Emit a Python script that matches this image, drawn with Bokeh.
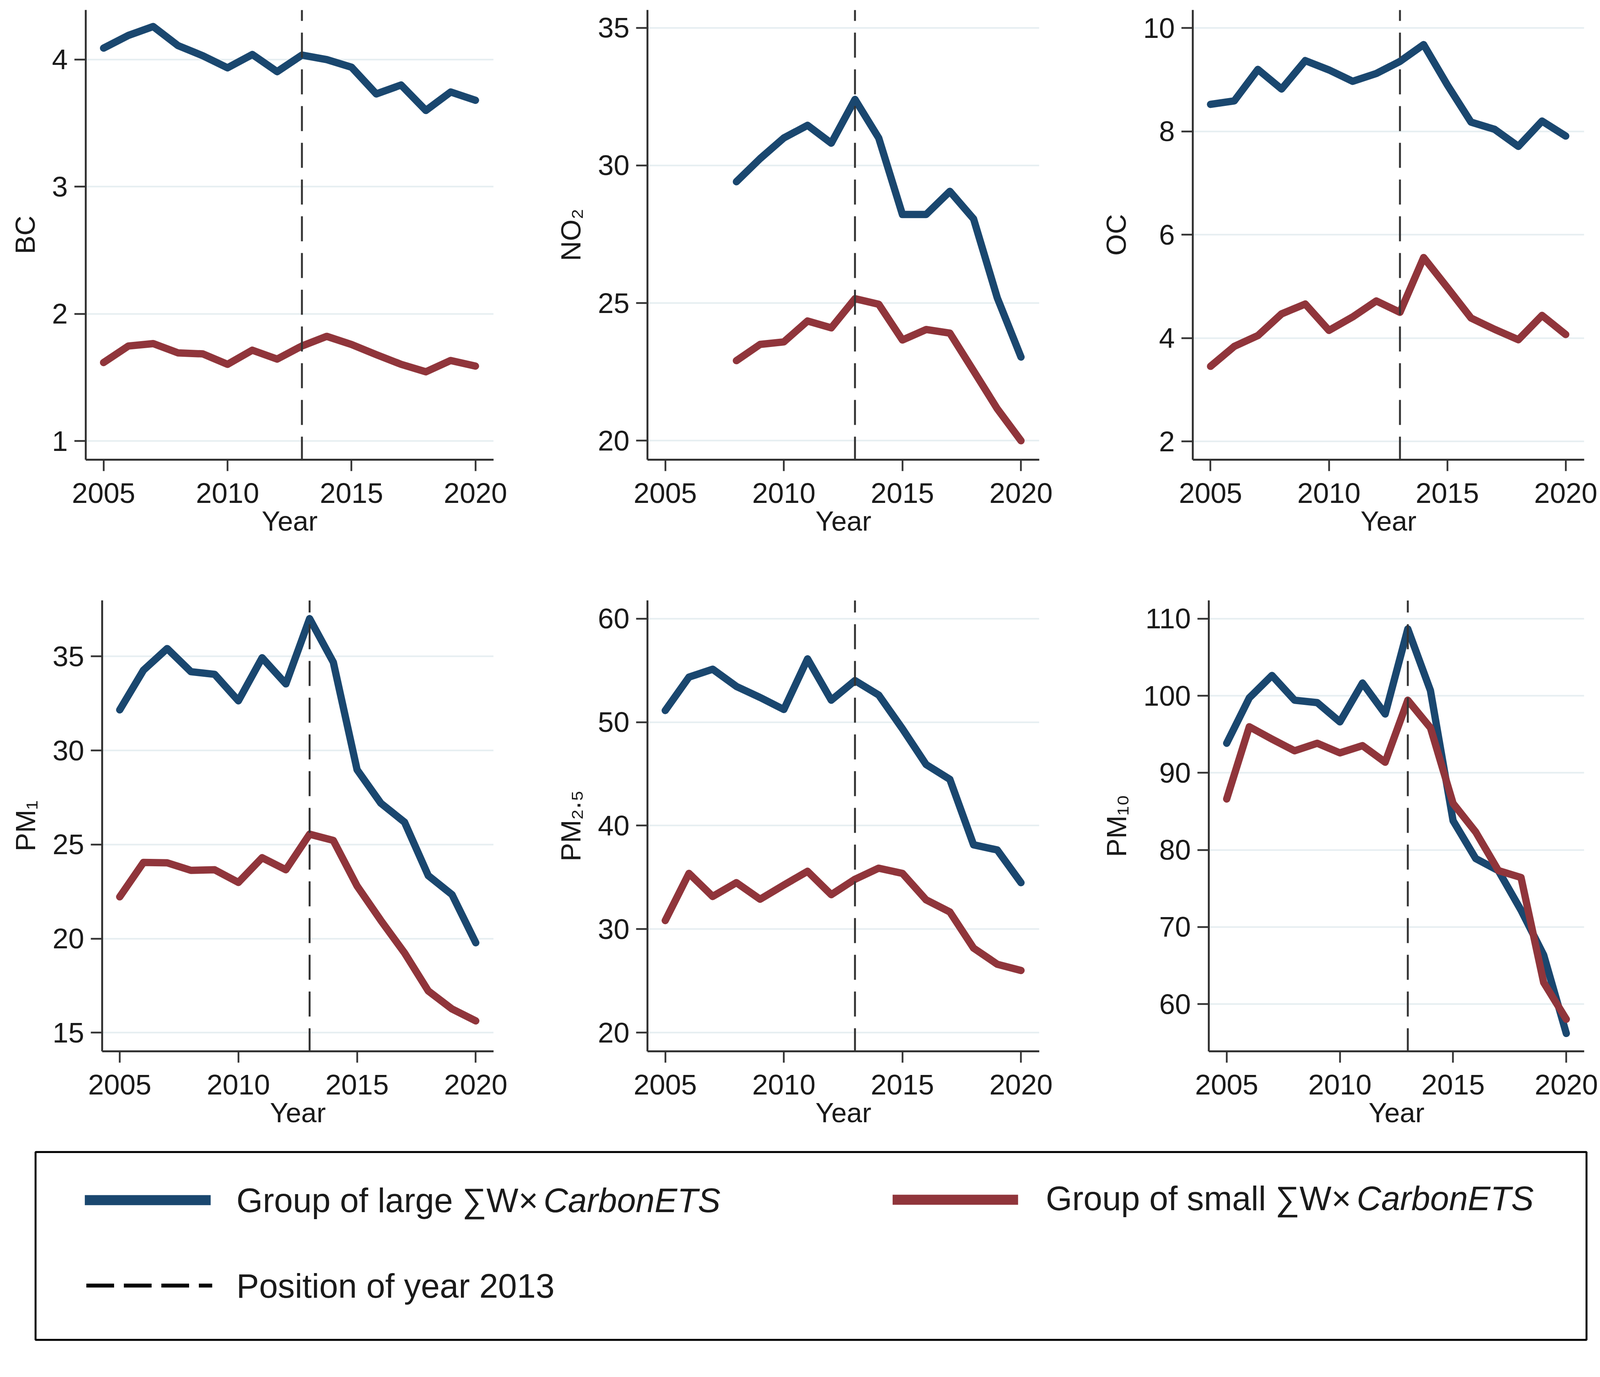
from bokeh.plotting import figure
from bokeh.models import Range1d, Span, FixedTicker
from bokeh.layouts import column, row
from bokeh.embed import file_html
from bokeh.resources import INLINE
from bokeh.core.properties import value

# ---------------- data ----------------
years = list(range(2005, 2021))
years_no2 = list(range(2008, 2021))
x_ticks = [2005, 2010, 2015, 2020]
policy_year = 2013

bc_large = [4.09, 4.19, 4.26, 4.11, 4.03, 3.935, 4.04, 3.905, 4.035, 4.00, 3.94, 3.73, 3.80, 3.60, 3.745, 3.68]
bc_small = [1.618, 1.748, 1.767, 1.694, 1.686, 1.604, 1.715, 1.645, 1.748, 1.824, 1.76, 1.68, 1.604, 1.545, 1.634, 1.59]

no2_large = [29.41, 30.25, 31.0, 31.46, 30.81, 32.4, 31.0, 28.22, 28.22, 29.06, 28.06, 25.19, 23.04]
no2_small = [22.91, 23.5, 23.59, 24.35, 24.1, 25.16, 24.96, 23.66, 24.04, 23.91, 22.54, 21.16, 20.0]

oc_large = [8.524, 8.59, 9.2, 8.82, 9.37, 9.19, 8.97, 9.12, 9.355, 9.68, 8.90, 8.18, 8.04, 7.71, 8.20, 7.91]
oc_small = [3.455, 3.84, 4.05, 4.47, 4.66, 4.15, 4.41, 4.72, 4.50, 5.56, 4.98, 4.39, 4.17, 3.97, 4.44, 4.07]

pm1_large = [32.16, 34.27, 35.42, 34.19, 34.05, 32.64, 34.93, 33.54, 37.01, 34.69, 28.98, 27.2, 26.19, 23.35, 22.34, 19.78]
pm1_small = [22.22, 24.05, 24.03, 23.63, 23.66, 22.99, 24.3, 23.66, 25.55, 25.22, 22.8, 20.97, 19.24, 17.22, 16.26, 15.63]

pm25_large = [51.12, 54.35, 55.11, 53.45, 52.38, 51.22, 56.11, 52.12, 54.01, 52.62, 49.36, 45.9, 44.47, 38.15, 37.65, 34.49]
pm25_small = [30.83, 35.39, 33.16, 34.49, 32.89, 34.26, 35.59, 33.33, 34.82, 35.89, 35.39, 32.83, 31.66, 28.17, 26.61, 26.01]

pm10_large = [93.84, 99.73, 102.63, 99.42, 99.11, 96.61, 101.65, 97.63, 108.66, 100.67, 83.79, 78.88, 77.32, 72.19, 66.38, 56.2]
pm10_small = [86.61, 95.98, 94.38, 92.86, 93.84, 92.59, 93.53, 91.38, 99.42, 95.85, 86.03, 82.32, 77.32, 76.43, 62.81, 58.04]

y_labels = ["BC", "NO\u2082", "OC", "PM\u2081", "PM\u2082.\u2085", "PM\u2081\u2080"]
y_ticks = [[1, 2, 3, 4], [20, 25, 30, 35], [2, 4, 6, 8, 10],
           [15, 20, 25, 30, 35], [20, 30, 40, 50, 60], [60, 70, 80, 90, 100, 110]]
x_ranges = [(2004.28, 2020.73), (2004.25, 2020.77), (2004.25, 2020.78),
            (2004.26, 2020.75), (2004.25, 2020.77), (2004.21, 2020.79)]
y_ranges = [(0.854, 4.39), (19.31, 35.65), (1.648, 10.35),
            (14.01, 37.98), (18.2, 61.76), (53.88, 112.37)]

legend_large = "Group of large \u2211W\u00d7"
legend_small = "Group of small \u2211W\u00d7"
legend_italic = "CarbonETS"
legend_dash = "Position of year 2013"

# ---------------- style / layout ----------------
BLUE = "#1a476f"
RED = "#90353b"
GRID = "#e6eef1"
AXIS = "#333333"
TEXT = "#1a1a1a"
FONT = "Liberation Sans"

Z = 1.015  # picture pixels per CSS pixel
DX = 7     # horizontal picture offset correction


def c(v):
    return int(round(v / Z))


def cx(v):
    return int(round((v + DX) / Z))


def f(v):
    return round(v / Z, 2)


col_edges = [8] + [cx(v) for v in (1330, 2771, 4156)]
row_edges = [c(v) for v in (8, 1440, 2980, 3496)]
# plot-frame edges in picture pixels: left, right, top, bottom
frames = [
    (223, 1283, 34, 1202), (1683, 2701, 34, 1202), (3100, 4117, 34, 1202),
    (266, 1283, 1567, 2738), (1683, 2701, 1567, 2738), (3142, 4117, 1567, 2738),
]

series = [
    (years, bc_large, bc_small),
    (years_no2, no2_large, no2_small),
    (years, oc_large, oc_small),
    (years, pm1_large, pm1_small),
    (years, pm25_large, pm25_small),
    (years, pm10_large, pm10_small),
]

DASH_PERIOD = 95


def make_panel(i):
    ci, ri = i % 3, i // 3
    fl, fr, ft, fb = frames[i]
    w = col_edges[ci + 1] - col_edges[ci]
    h = row_edges[ri + 1] - row_edges[ri]
    xs, large, small = series[i]
    p = figure(width=w, height=h, x_range=Range1d(*x_ranges[i]), y_range=Range1d(*y_ranges[i]),
               output_backend="svg", toolbar_location=None,
               min_border_left=cx(fl) - col_edges[ci], min_border_right=col_edges[ci + 1] - cx(fr),
               min_border_top=c(ft) - row_edges[ri], min_border_bottom=row_edges[ri + 1] - c(fb))
    p.outline_line_color = None
    p.background_fill_color = "white"
    p.border_fill_color = "white"
    p.xgrid.visible = False
    p.ygrid.ticker = FixedTicker(ticks=y_ticks[i])
    p.ygrid.grid_line_color = GRID
    p.ygrid.grid_line_width = f(4)

    p.xaxis.ticker = FixedTicker(ticks=x_ticks)
    p.yaxis.ticker = FixedTicker(ticks=y_ticks[i])
    p.xaxis.axis_label = "Year"
    p.yaxis.axis_label = y_labels[i]
    for ax in (p.xaxis, p.yaxis):
        ax.axis_line_color = AXIS
        ax.axis_line_width = f(5)
        ax.major_tick_line_color = AXIS
        ax.major_tick_line_width = f(4.5)
        ax.major_tick_out = c(29)
        ax.major_tick_in = 0
        ax.minor_tick_line_color = None
        ax.major_label_text_font = FONT
        ax.major_label_text_font_size = "%.1fpx" % (74 / Z)
        ax.major_label_text_color = TEXT
        ax.axis_label_text_font = FONT
        ax.axis_label_text_font_size = "%.1fpx" % (72 / Z)
        ax.axis_label_text_font_style = "normal"
        ax.axis_label_text_color = TEXT
    p.xaxis.major_label_standoff = c(31)
    p.xaxis.axis_label_standoff = c(4)
    p.yaxis.major_label_standoff = c(17)
    p.yaxis.axis_label_standoff = c(26)

    p.line(xs, large, line_color=BLUE, line_width=f(19), line_join="round", line_cap="round")
    p.line(xs, small, line_color=RED, line_width=f(19), line_join="round", line_cap="round")
    # dash pattern anchored at the bottom of the frame
    frame_h = fb - ft
    offset = (65 - frame_h % DASH_PERIOD) % DASH_PERIOD
    p.add_layout(Span(location=policy_year, dimension="height", line_color=AXIS,
                      line_width=f(5), line_dash="%d %d" % (c(65), c(30)),
                      line_dash_offset=c(offset)))
    return p


panels = [make_panel(i) for i in range(6)]

# ---------------- legend (coordinates in picture pixels) ----------------
lw = col_edges[3] - col_edges[0]
lh = row_edges[3] - row_edges[2]
leg = figure(width=lw, height=lh,
             x_range=Range1d(Z * col_edges[0] - DX, Z * col_edges[3] - DX),
             y_range=Range1d(Z * row_edges[3], Z * row_edges[2]),
             output_backend="svg", toolbar_location=None,
             min_border_left=0, min_border_right=0, min_border_top=0, min_border_bottom=0)
leg.axis.visible = False
leg.grid.visible = False
leg.outline_line_color = None
leg.background_fill_color = "white"
leg.border_fill_color = "white"

leg.quad(left=93, right=4123, top=3000, bottom=3488, fill_color="white",
         line_color="black", line_width=f(5))
leg.line([221, 548], [3125, 3125], line_color=BLUE, line_width=f(26))
leg.line([2320, 2646], [3124, 3124], line_color=RED, line_width=f(26))
leg.line([225, 552], [3347, 3347], line_color="black", line_width=f(10),
         line_dash="%d %d" % (c(72), c(25)))

txt = dict(text_font=value(FONT), text_font_size="%.1fpx" % (88 / Z), text_color=TEXT,
           text_baseline="middle", text_align="left")
leg.text(x=[615, 2718, 615], y=[3126, 3121, 3348],
         text=[legend_large, legend_small, legend_dash], **txt)
leg.text(x=[1413, 3526], y=[3126, 3121], text=[legend_italic, legend_italic],
         text_font_style="italic", **txt)

layout = column(row(*panels[:3]), row(*panels[3:]), leg)

open("out.html", "w").write(file_html(layout, INLINE))
